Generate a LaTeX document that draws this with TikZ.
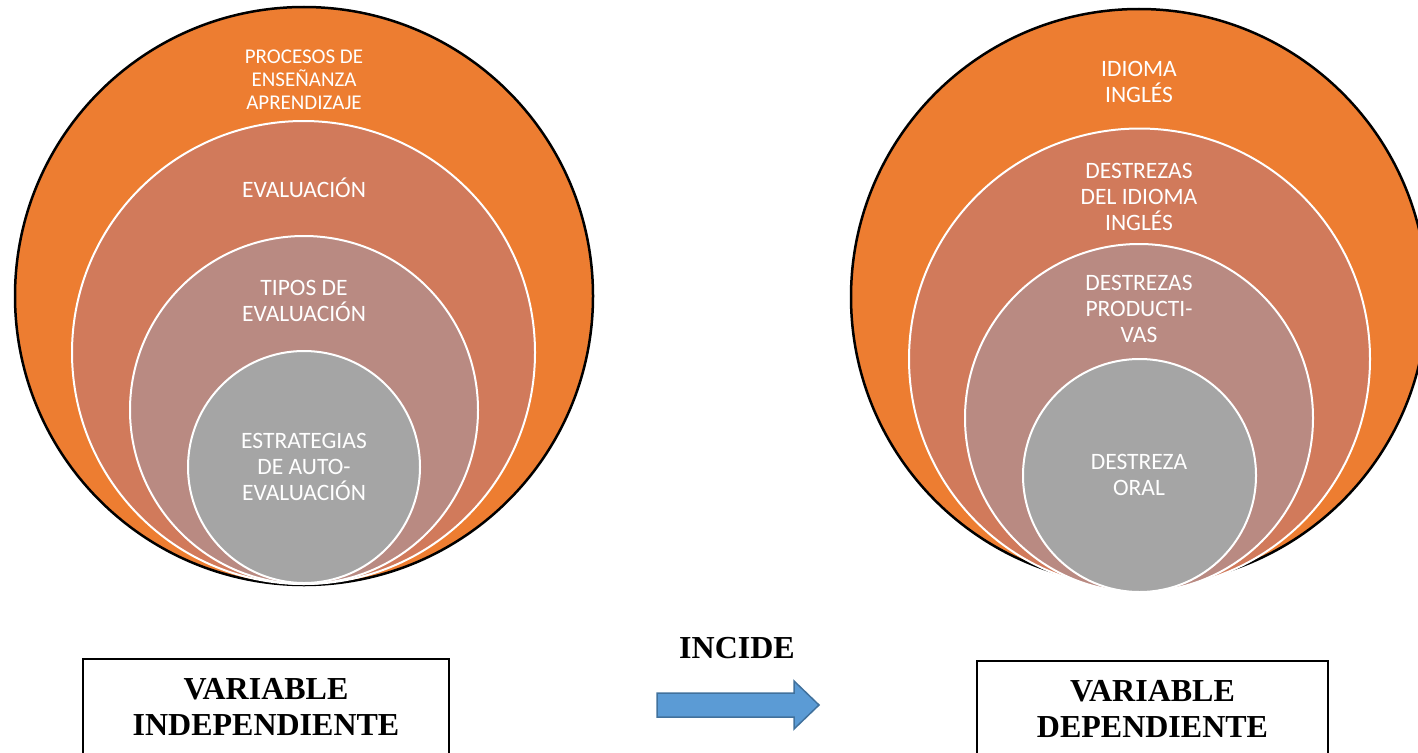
\documentclass[tikz,border=0pt]{standalone}
\usepackage{fontspec}
\newfontfamily\carl{Carlito}
\newfontfamily\tnr{Liberation Serif}
\definecolor{orng}{HTML}{ED7D31}
\definecolor{ringb}{HTML}{D17A5B}
\definecolor{ringc}{HTML}{B98A82}
\definecolor{ringd}{HTML}{A5A5A5}
\definecolor{arrfill}{HTML}{5B9BD5}
\definecolor{arrline}{HTML}{41719C}
\begin{document}
\begin{tikzpicture}[x=1pt,y=-1pt,
  ring/.style={circle, draw=white, line width=2pt, inner sep=0pt},
  outer/.style={circle, fill=orng, draw=black, line width=2.5pt, inner sep=0pt},
  ctxt/.style={text=white, font=\carl\fontsize{23.5}{26}\selectfont, anchor=base, inner sep=0pt},
  stxt/.style={text=white, font=\carl\fontsize{21}{23}\selectfont, anchor=base, inner sep=0pt},
  btxt/.style={text=black, font=\tnr\bfseries\fontsize{32}{36}\selectfont, anchor=base, inner sep=0pt},
  varbox/.style={draw=black, line width=2pt, fill=white, inner sep=0pt},
  blockarrow/.style={fill=arrfill, draw=arrline, line width=1.5pt, line join=miter}]
\useasboundingbox (0,0) rectangle (1418,752);
% left circles
\node[outer, minimum size=578pt] (c1) at (304,296) {};
\node[ring, fill=ringb, minimum size=463pt] (c2) at (303.5,352.5) {};
\node[ring, fill=ringc, minimum size=348pt] (c3) at (304,410) {};
\node[ring, fill=ringd, minimum size=232pt] (c4) at (304,467) {};
\node[stxt] (l1a) at (304,63.8) {PROCESOS DE};
\node[stxt] (l1b) at (304,86.8) {ENSEÑANZA};
\node[stxt] (l1c) at (304,109.8) {APRENDIZAJE};
\node[ctxt] (l2a) at (304,197.6) {EVALUACIÓN};
\node[ctxt] (l3a) at (304,295.6) {TIPOS DE};
\node[ctxt] (l3b) at (304,321.6) {EVALUACIÓN};
\node[ctxt] (l4a) at (304,448.6) {ESTRATEGIAS};
\node[ctxt] (l4b) at (304,474.6) {DE AUTO-};
\node[ctxt] (l4c) at (304,500.6) {EVALUACIÓN};
% right circles
\node[outer, minimum size=576pt] (d1) at (1139,297) {};
\node[ring, fill=ringb, minimum size=461pt] (d2) at (1139.5,359) {};
\node[ring, fill=ringc, minimum size=348pt] (d3) at (1139,418) {};
\node[ring, fill=ringd, minimum size=233pt] (d4) at (1139.5,475.5) {};
\node[ctxt] (r1a) at (1139,76.6) {IDIOMA};
\node[ctxt] (r1b) at (1139,102.6) {INGLÉS};
\node[ctxt] (r2a) at (1139,178.6) {DESTREZAS};
\node[ctxt] (r2b) at (1139,204.6) {DEL IDIOMA};
\node[ctxt] (r2c) at (1139,230.6) {INGLÉS};
\node[ctxt] (r3a) at (1139,290.6) {DESTREZAS};
\node[ctxt] (r3b) at (1139,316.6) {PRODUCTI-};
\node[ctxt] (r3c) at (1139,342.6) {VAS};
\node[ctxt] (r4a) at (1139,469.6) {DESTREZA};
\node[ctxt] (r4b) at (1139,495.6) {ORAL};
% variable boxes
\node[varbox, minimum width=366pt, minimum height=141pt] (vi) at (266,729.5) {};
\node[btxt] (vi1) at (266,699.6) {VARIABLE};
\node[btxt] (vi2) at (266,735.6) {INDEPENDIENTE};
\node[varbox, minimum width=351pt, minimum height=139pt] (vd) at (1152.5,730.5) {};
\node[btxt] (vd1) at (1152.5,701.6) {VARIABLE};
\node[btxt] (vd2) at (1152.5,737.6) {DEPENDIENTE};
% incide arrow
\node[btxt] (inc) at (737,658.6) {INCIDE};
\coordinate (atail) at (657,705);
\coordinate (atip) at (819,705);
\draw[blockarrow] (atail) ++(0,-12) -- ++(137,0) -- ++(0,-12) -- (atip) -- ++(-25,24) -- ++(0,-12) -- ++(-137,0) -- cycle;
\end{tikzpicture}
\end{document}
